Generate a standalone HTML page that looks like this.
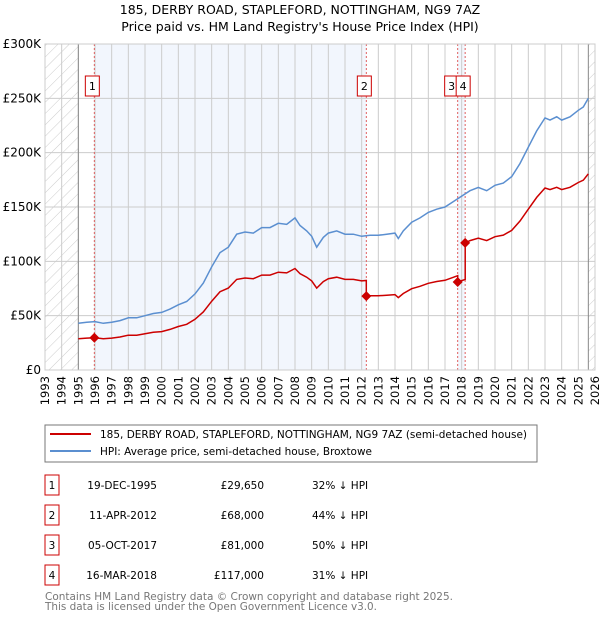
<!DOCTYPE html>
<html><head><meta charset="utf-8"><style>
body{margin:0;background:#fff;font-family:"DejaVu Sans","Liberation Sans",sans-serif;}
svg text{font-family:"DejaVu Sans","Liberation Sans",sans-serif;}
</style></head><body>
<svg id="chart" width="600" height="620" xmlns="http://www.w3.org/2000/svg">
<defs><pattern id="hatch" patternUnits="userSpaceOnUse" width="8" height="8" patternTransform="rotate(45)"><line x1="0" y1="0" x2="0" y2="8" stroke="#ccc" stroke-width="1"/></pattern></defs>
<text x="300" y="14" text-anchor="middle" font-size="12.5">185, DERBY ROAD, STAPLEFORD, NOTTINGHAM, NG9 7AZ</text>
<text x="300" y="31" text-anchor="middle" font-size="12.5">Price paid vs. HM Land Registry's House Price Index (HPI)</text>
<g id="plot"></g>
<g>
<rect x="45" y="425" width="492" height="37" fill="#fff" stroke="#777"/>
<line x1="50" y1="434" x2="91" y2="434" stroke="#cc0000" stroke-width="2"/>
<text x="100" y="438" font-size="10.5" textLength="427" lengthAdjust="spacingAndGlyphs">185, DERBY ROAD, STAPLEFORD, NOTTINGHAM, NG9 7AZ (semi-detached house)</text>
<line x1="50" y1="451" x2="91" y2="451" stroke="#5b8fd0" stroke-width="2"/>
<text x="100" y="455" font-size="10.5" textLength="272" lengthAdjust="spacingAndGlyphs">HPI: Average price, semi-detached house, Broxtowe</text>
</g>
<g id="table" font-size="10.5"></g>
<text x="45" y="600" font-size="10.5" fill="#777" textLength="408" lengthAdjust="spacingAndGlyphs">Contains HM Land Registry data © Crown copyright and database right 2025.</text>
<text x="45" y="610" font-size="10.5" fill="#777" textLength="332" lengthAdjust="spacingAndGlyphs">This data is licensed under the Open Government Licence v3.0.</text>
</svg>
<script>
const hpiYears=[1995,1995.5,1996,1996.5,1997,1997.5,1998,1998.5,1999,1999.5,2000,2000.5,2001,2001.5,2002,2002.5,2003,2003.5,2004,2004.5,2005,2005.5,2006,2006.5,2007,2007.5,2008,2008.3,2008.7,2009,2009.3,2009.7,2010,2010.5,2011,2011.5,2012,2012.5,2013,2013.5,2014,2014.2,2014.5,2015,2015.5,2016,2016.5,2017,2017.5,2018,2018.5,2019,2019.5,2020,2020.5,2021,2021.5,2022,2022.5,2023,2023.3,2023.7,2024,2024.5,2025,2025.3,2025.6];
const hpiValues=[43,44,44.5,43,44,45.5,48,48,50,52,53,56,60,63,70,80,95,108,113,125,127,126,131,131,135,134,140,133,128,123,113,122,126,128,125,125,123,124,124,125,126,121,128,136,140,145,148,150,155,160,165,168,165,170,172,178,190,205,220,232,230,233,230,233,239,242,250];
const saleLabels=["1","2","3","4"];
const saleDates=["19-DEC-1995","11-APR-2012","05-OCT-2017","16-MAR-2018"];
const saleYears=[1995.96,2012.28,2017.76,2018.21];
const salePrices=[29650,68000,81000,117000];
const salePriceText=["£29,650","£68,000","£81,000","£117,000"];
const saleDiffText=["32% ↓ HPI","44% ↓ HPI","50% ↓ HPI","31% ↓ HPI"];
const yTicks=[0,50,100,150,200,250,300];
const yTickLabels=["£0","£50K","£100K","£150K","£200K","£250K","£300K"];

const NS="http://www.w3.org/2000/svg";
const L=45,R=595,T=44,B=370,X0=1993,X1=2026;
const xs=y=>L+(y-X0)/(X1-X0)*(R-L);
const ys=v=>B-v/300*(B-T);
const g=document.getElementById('plot');
function mk(tag,attrs,parent){const e=document.createElementNS(NS,tag);for(const k in attrs)e.setAttribute(k,attrs[k]);(parent||g).appendChild(e);return e;}
function hpiAt(y){for(let i=1;i<hpiYears.length;i++){if(y<=hpiYears[i]){const t=(y-hpiYears[i-1])/(hpiYears[i]-hpiYears[i-1]);return hpiValues[i-1]+t*(hpiValues[i]-hpiValues[i-1]);}}return hpiValues[hpiValues.length-1];}

let e=mk('rect',{x:L,y:T,width:R-L,height:B-T,fill:'#fff'});

e=mk('rect',{x:xs(saleYears[0]),y:T,width:xs(saleYears[1])-xs(saleYears[0]),height:B-T,fill:'#f2f6fd'});

e=mk('rect',{x:xs(saleYears[2]),y:T,width:xs(saleYears[3])-xs(saleYears[2]),height:B-T,fill:'#f2f6fd'});

e=mk('rect',{x:L,y:T,width:xs(1995)-L,height:B-T,fill:'url(#hatch)'});

e=mk('rect',{x:xs(2025.6),y:T,width:R-xs(2025.6),height:B-T,fill:'url(#hatch)'});

for(let y=X0;y<=X1;y++){
  e=mk('line',{x1:xs(y),x2:xs(y),y1:T,y2:B,stroke:'#ccc'});
  
  e=mk('text',{x:0,y:0,'font-size':11.5,'text-anchor':'end',transform:`translate(${xs(y)+4},${B+6}) rotate(-90)`});
  e.textContent=y;
  
}
yTicks.forEach((v,i)=>{
  e=mk('line',{x1:L,x2:R,y1:ys(v),y2:ys(v),stroke:'#ccc'});
  
  e=mk('text',{x:L-4,y:ys(v)+4,'font-size':12,'text-anchor':'end'});
  e.textContent=yTickLabels[i];
  
});
e=mk('line',{x1:xs(1995),x2:xs(1995),y1:T,y2:B,stroke:'#888'});

e=mk('line',{x1:xs(2025.6),x2:xs(2025.6),y1:T,y2:B,stroke:'#888'});

saleYears.forEach((y,i)=>{
  e=mk('line',{x1:xs(y),x2:xs(y),y1:T,y2:B,stroke:'#e06060','stroke-dasharray':'2,2'});
  
});
e=mk('path',{d:hpiYears.map((y,i)=>(i?'L':'M')+xs(y).toFixed(1)+','+ys(hpiValues[i]).toFixed(1)).join(''),fill:'none',stroke:'#5b8fd0','stroke-width':1.5});

let d='';
for(let s=0;s<saleYears.length;s++){
  const ratio=salePrices[s]/1000/hpiAt(saleYears[s]);
  const start=s===0?1995:saleYears[s];
  const end=s<saleYears.length-1?saleYears[s+1]:2025.6;
  const pts=[start].concat(hpiYears.filter(y=>y>start&&y<end),[end]);
  pts.forEach((y,j)=>{d+=(d===''?'M':'L')+xs(y).toFixed(1)+','+ys(hpiAt(y)*ratio).toFixed(1);});
}
e=mk('path',{d:d,fill:'none',stroke:'#cc0000','stroke-width':1.5});

saleYears.forEach((y,i)=>{
  const cx=xs(y),cy=ys(salePrices[i]/1000);
  e=mk('path',{d:`M${cx},${cy-5}L${cx+5},${cy}L${cx},${cy+5}L${cx-5},${cy}Z`,fill:'#cc0000'});
  
  const bx=i===2?cx-13:cx-9;
  e=mk('rect',{x:bx,y:76,width:14,height:20,fill:'#fff',stroke:'#cc0000'});
  
  e=mk('text',{x:bx+7,y:90,'font-size':11,'text-anchor':'middle'});
  e.textContent=saleLabels[i];
  
});
mk('rect',{x:L,y:T,width:R-L,height:B-T,fill:'none',stroke:'#ccc'});
const tb=document.getElementById('table');
saleLabels.forEach((lab,i)=>{
  const cy=485+i*30;
  e=mk('rect',{x:45,y:cy-10,width:14,height:20,fill:'#fff',stroke:'#cc0000'},tb);
  
  e=mk('text',{x:52,y:cy+4,'text-anchor':'middle'},tb);e.textContent=lab;
  
  e=mk('text',{x:157,y:cy+4,'text-anchor':'end'},tb);e.textContent=saleDates[i];
  
  e=mk('text',{x:264,y:cy+4,'text-anchor':'end'},tb);e.textContent=salePriceText[i];
  
  e=mk('text',{x:312,y:cy+4},tb);e.textContent=saleDiffText[i];
  
});
</script>
</body></html>
